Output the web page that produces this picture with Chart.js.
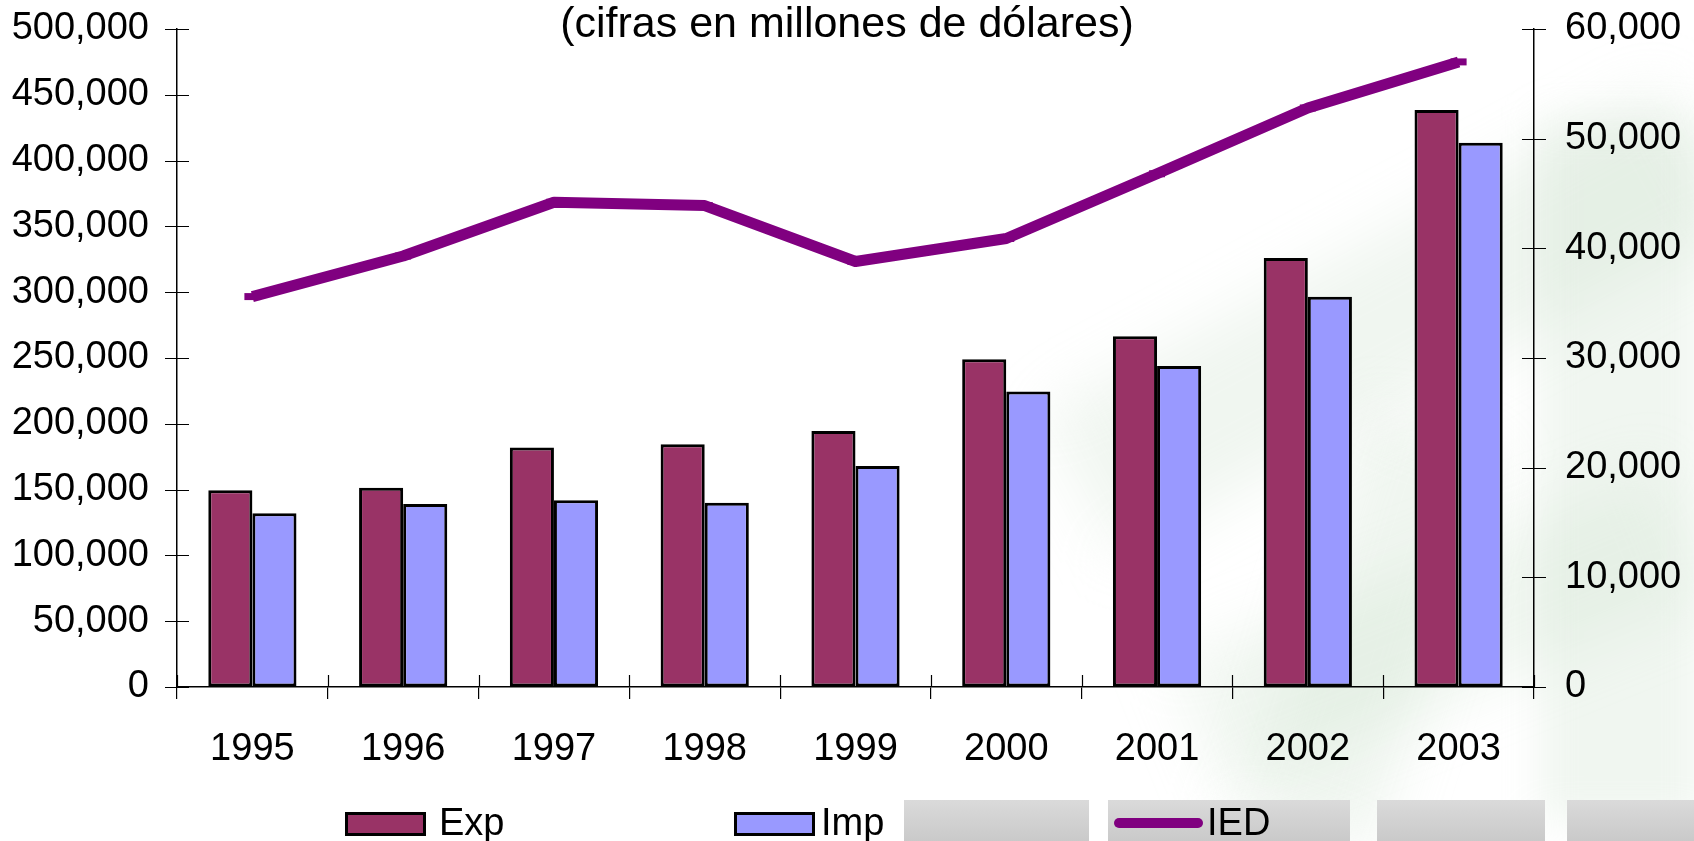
<!DOCTYPE html>
<html>
<head>
<meta charset="utf-8">
<script src="https://cdn.jsdelivr.net/npm/chart.js@4.4.1/dist/chart.umd.min.js"></script>
<style>
  html, body { margin:0; padding:0; background:#fff; }
  #wrap { position:relative; width:1694px; height:841px; overflow:hidden; background:#fff; font-family:"Liberation Sans", Arial, sans-serif; }
  .bg { position:absolute; }
  #c { position:absolute; left:0; top:0; }
  #title { position:absolute; left:0; width:1694px; text-align:center; top:1px; font-size:43px; color:#000; line-height:43px; white-space:nowrap; }
  #legend { position:absolute; top:801px; left:0; height:40px; }
  .li { position:absolute; top:0; height:42px; display:flex; align-items:center; font-size:38px; color:#000; }
  .box { width:75px; height:18px; border:3px solid #000; margin-top:4px; }
  .ln { width:89px; height:10px; border-radius:5px; background:#800080; margin-right:4px; margin-top:2px; }
</style>
</head>
<body>
<div id="wrap">
  <div class="bg" style="left:1040px;top:240px;width:700px;height:160px;background:rgba(195,218,195,0.25);filter:blur(30px);transform:rotate(-28deg);"></div>
  <div class="bg" style="left:1300px;top:420px;width:140px;height:420px;background:rgba(195,218,195,0.25);filter:blur(28px);transform:rotate(18deg);"></div>
  <div class="bg" style="left:1180px;top:560px;width:520px;height:140px;background:rgba(200,222,200,0.25);filter:blur(30px);transform:rotate(-22deg);"></div>
  <div class="bg" style="left:1540px;top:120px;width:160px;height:700px;background:rgba(205,225,205,0.3);filter:blur(20px);"></div>
  <div class="bg" style="left:904px;top:800px;width:185px;height:45px;background:linear-gradient(#dadada,#c8c8c8);"></div>
  <div class="bg" style="left:1108px;top:800px;width:242px;height:45px;background:linear-gradient(#dadada,#c8c8c8);"></div>
  <div class="bg" style="left:1377px;top:800px;width:168px;height:45px;background:linear-gradient(#dadada,#c8c8c8);"></div>
  <div class="bg" style="left:1567px;top:800px;width:140px;height:45px;background:linear-gradient(#dadada,#c8c8c8);"></div>
  <canvas id="c" width="1694" height="841"></canvas>
  <div id="title">(cifras en millones de dólares)</div>
  <div id="legend">
    <div class="li" style="left:345px"><div class="box" style="background:#993366;margin-right:13px"></div>Exp</div>
    <div class="li" style="left:734px"><div class="box" style="background:#9999FF;margin-right:6px"></div>Imp</div>
    <div class="li" style="left:1114px"><div class="ln"></div>IED</div>
  </div>
</div>
<script>
// ---- data ----
const years = ['1995','1996','1997','1998','1999','2000','2001','2002','2003'];
const exportsVals = [149500, 151500, 182000, 184500, 194500, 249000, 266500, 326000, 438500];
const importsVals = [132000, 139000, 142000, 140000, 168000, 224500, 244000, 296500, 413500];
const iedVals = [35600, 39300, 44200, 43900, 38800, 40900, 46800, 52800, 57000];
const leftTicks = { min: 0, max: 500000, step: 50000 };
const rightTicks = { min: 0, max: 60000, step: 10000 };

const FONT = { family: '"Liberation Sans", Arial, sans-serif', size: 38 };
const fmt = v => Number(v).toLocaleString('en-US');

// draws "cross" tick marks (both halves) on the value axes and the inner half on the category axis
const crossTicks = {
  id: 'crossTicks',
  afterDraw(chart) {
    const ctx = chart.ctx;
    const L = 12;
    ctx.save();
    ctx.strokeStyle = '#000';
    ctx.lineWidth = 1.2;
    const y = chart.scales.y, y1 = chart.scales.y1, x = chart.scales.x;
    ctx.beginPath();
    y.ticks.forEach((t, i) => {
      const py = Math.round(y.getPixelForTick(i)) + 0.5;
      ctx.moveTo(y.right - L, py); ctx.lineTo(y.right + L, py);
    });
    y1.ticks.forEach((t, i) => {
      const py = Math.round(y1.getPixelForTick(i)) + 0.5;
      ctx.moveTo(y1.left - L, py); ctx.lineTo(y1.left + L, py);
    });
    const n = x.ticks.length;
    for (let i = 0; i <= n; i++) {
      const px = Math.round(x.getPixelForValue(i - 0.5)) + 0.5;
      ctx.moveTo(px, x.top - L); ctx.lineTo(px, x.top);
    }
    ctx.stroke();
    ctx.restore();
  }
};

new Chart(document.getElementById('c'), {
  data: {
    labels: years,
    datasets: [
      { type: 'line', label: 'IED', data: iedVals, yAxisID: 'y1', order: 0,
        borderColor: '#800080', borderWidth: 11, tension: 0, fill: false,
        borderJoinStyle: 'round', borderCapStyle: 'butt',
        pointStyle: 'line', pointRadius: 8, pointBorderWidth: 7,
        pointBorderColor: '#800080', pointBackgroundColor: '#800080', clip: false },
      { type: 'bar', label: 'Exp', data: exportsVals, yAxisID: 'y', order: 1,
        backgroundColor: '#993366', borderColor: '#000', borderWidth: 3, borderSkipped: false,
        categoryPercentage: 0.585, barPercentage: 1.0 },
      { type: 'bar', label: 'Imp', data: importsVals, yAxisID: 'y', order: 1,
        backgroundColor: '#9999FF', borderColor: '#000', borderWidth: 3, borderSkipped: false,
        categoryPercentage: 0.585, barPercentage: 1.0 }
    ]
  },
  options: {
    responsive: false,
    devicePixelRatio: 1,
    animation: false,
    layout: { padding: { top: 29, left: 0, right: 0, bottom: 0 } },
    plugins: { legend: { display: false }, title: { display: false }, tooltip: { enabled: false } },
    scales: {
      x: {
        type: 'category', offset: true,
        grid: { display: true, drawOnChartArea: false, drawTicks: true, tickLength: 12, color: '#000', lineWidth: 1.2, offset: true },
        border: { display: true, color: '#000', width: 1.5 },
        ticks: { font: FONT, color: '#000', padding: 28, maxRotation: 0 },
        afterFit: s => { s.height = 154; }
      },
      y: {
        type: 'linear', position: 'left',
        min: leftTicks.min, max: leftTicks.max,
        grid: { display: true, drawOnChartArea: false, drawTicks: true, tickLength: 28, tickColor: 'rgba(0,0,0,0)', color: 'rgba(0,0,0,0)' },
        border: { display: true, color: '#000', width: 1.5 },
        ticks: { stepSize: leftTicks.step, font: FONT, color: '#000', padding: 0, callback: fmt },
        afterFit: s => { s.width = 177; }
      },
      y1: {
        type: 'linear', position: 'right',
        min: rightTicks.min, max: rightTicks.max,
        grid: { display: true, drawOnChartArea: false, drawTicks: true, tickLength: 31, tickColor: 'rgba(0,0,0,0)', color: 'rgba(0,0,0,0)' },
        border: { display: true, color: '#000', width: 1.5 },
        ticks: { stepSize: rightTicks.step, font: FONT, color: '#000', padding: 0, callback: fmt },
        afterFit: s => { s.width = 160; }
      }
    }
  },
  plugins: [crossTicks]
});
</script>
</body>
</html>
